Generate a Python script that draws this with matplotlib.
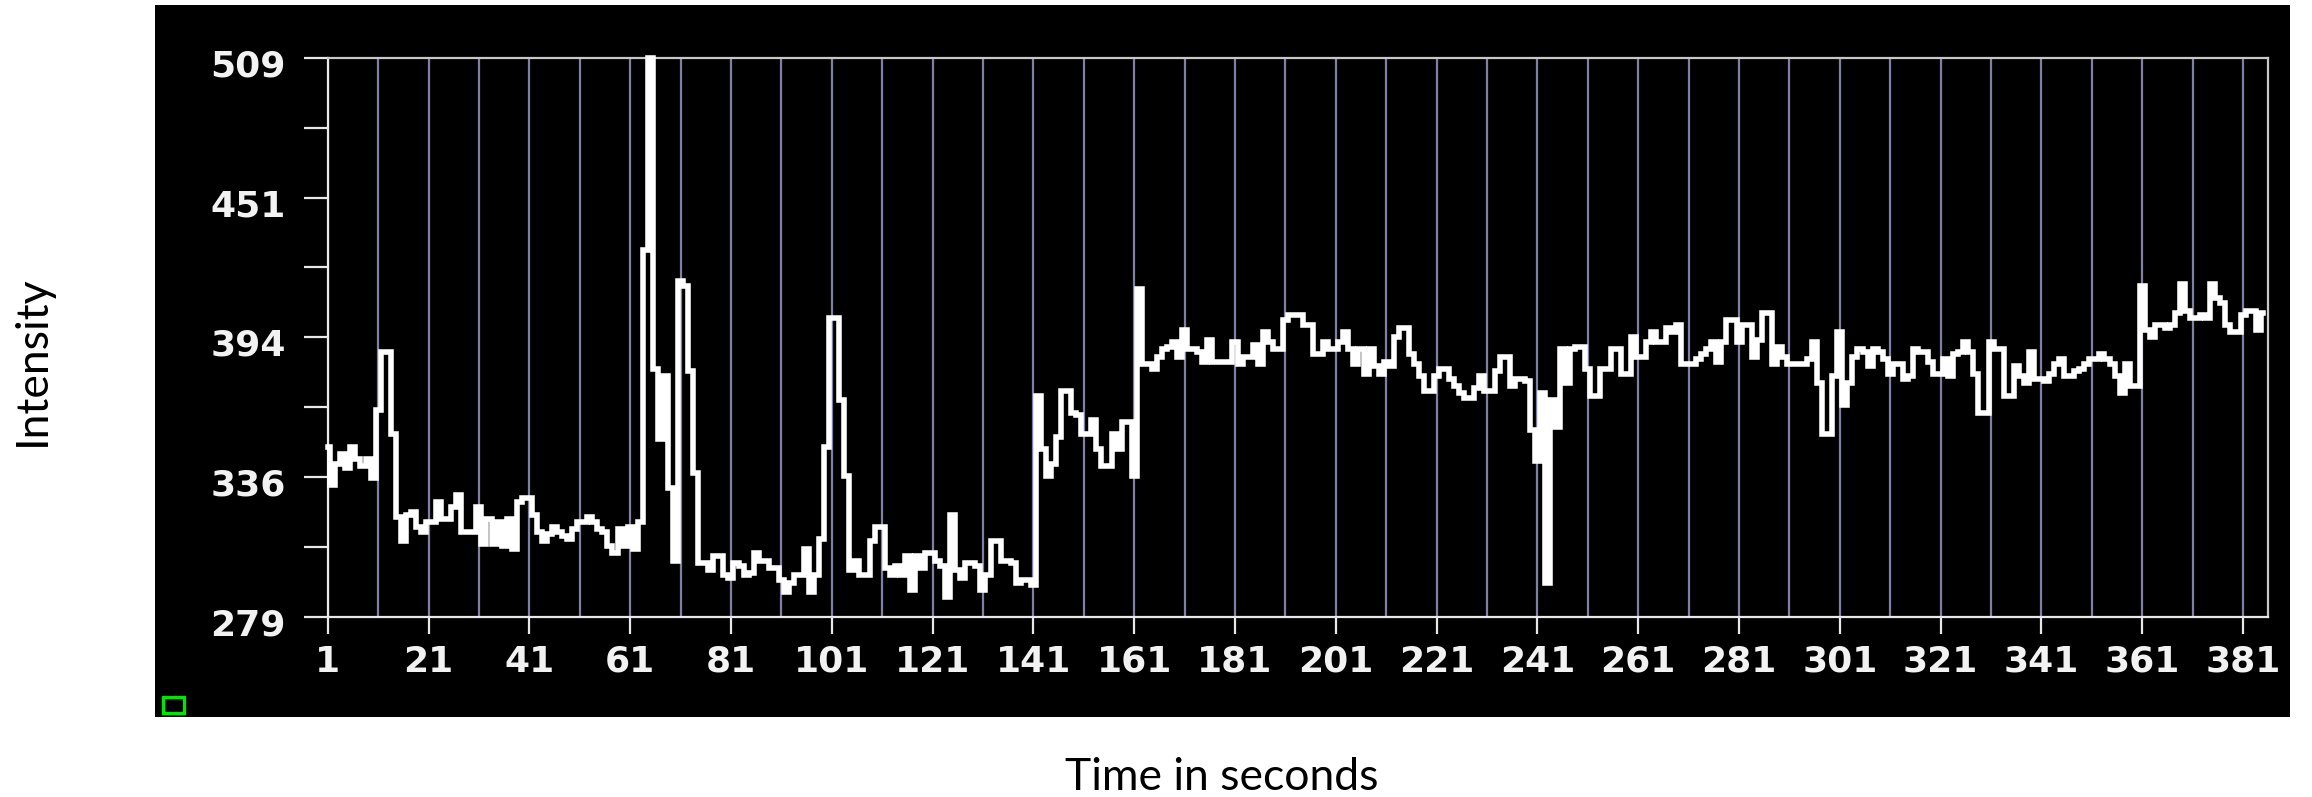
import matplotlib
matplotlib.use("Agg")
import matplotlib.pyplot as plt
import matplotlib.transforms as mtransforms
from matplotlib.patches import Rectangle

# Intensity samples, one per second (t = 1 .. 385)
intensity = [
    349, 333, 342, 346, 340, 349, 344, 341, 344, 336,
    364, 388, 388, 354, 320, 310, 321, 322, 316, 314,
    318, 318, 326, 319, 319, 324, 329, 314, 314, 314,
    324, 309, 319, 309, 318, 308, 319, 307, 326, 328,
    328, 321, 314, 310, 313, 316, 314, 312, 311, 315,
    318, 318, 320, 318, 315, 314, 308, 305, 315, 308,
    316, 307, 318, 430, 509, 381, 352, 378, 332, 302,
    417, 415, 380, 338, 301, 301, 298, 304, 304, 296,
    295, 301, 300, 296, 297, 305, 302, 302, 299, 299,
    294, 289, 293, 296, 296, 307, 289, 296, 311, 349,
    402, 402, 368, 337, 298, 302, 296, 296, 310, 316,
    316, 299, 296, 300, 296, 304, 290, 304, 299, 305,
    305, 302, 300, 287, 321, 298, 295, 301, 301, 300,
    290, 296, 310, 310, 302, 302, 301, 293, 294, 294,
    292, 370, 348, 337, 342, 353, 372, 372, 363, 362,
    354, 354, 360, 348, 341, 341, 354, 348, 359, 359,
    337, 414, 383, 383, 381, 386, 389, 390, 392, 386,
    397, 389, 389, 388, 384, 393, 384, 384, 384, 384,
    392, 383, 386, 386, 391, 383, 396, 392, 389, 389,
    401, 403, 403, 403, 399, 399, 387, 387, 392, 389,
    389, 392, 396, 389, 383, 389, 379, 389, 382, 379,
    384, 382, 394, 398, 398, 387, 383, 378, 372, 372,
    378, 381, 381, 377, 374, 371, 369, 369, 373, 378,
    372, 372, 380, 386, 386, 374, 377, 377, 376, 356,
    343, 371, 293, 368, 357, 389, 375, 389, 390, 390,
    381, 370, 370, 381, 381, 389, 389, 379, 379, 394,
    386, 386, 392, 396, 392, 392, 398, 396, 399, 383,
    383, 383, 385, 387, 389, 392, 384, 392, 401, 401,
    392, 399, 399, 386, 393, 404, 404, 383, 390, 386,
    383, 383, 383, 383, 385, 392, 375, 354, 354, 378,
    396, 366, 375, 386, 389, 388, 382, 389, 388, 385,
    379, 383, 383, 377, 378, 389, 388, 388, 384, 379,
    379, 385, 378, 387, 388, 392, 388, 379, 363, 363,
    392, 389, 389, 370, 370, 382, 378, 375, 388, 377,
    377, 376, 379, 383, 385, 378, 378, 380, 381, 383,
    385, 385, 387, 385, 383, 378, 371, 383, 374, 374,
    415, 397, 394, 399, 399, 398, 399, 404, 416, 405,
    402, 402, 403, 402, 416, 410, 408, 399, 396, 396,
    403, 405, 405, 397, 404,
]
seconds = list(range(1, len(intensity) + 1))

x_tick_values = list(range(1, 382, 20))
x_grid_values = list(range(11, 386, 10))
y_tick_values = [279, 336.5, 394, 451.5, 509]
y_tick_labels = ["279", "336", "394", "451", "509"]
y_minor_values = [307.75, 365.25, 422.75, 480.25]

W, H, DPI = 2312, 797, 100
fig = plt.figure(figsize=(W / DPI, H / DPI), dpi=DPI, facecolor="white")

# black plot panel behind the axes
fig.patches.append(Rectangle((155 / W, 1 - 717 / H), (2290 - 155) / W, (717 - 5) / H,
                             transform=fig.transFigure, facecolor="black",
                             edgecolor="none", zorder=-10))
# small green status box in the panel corner
fig.patches.append(Rectangle((163 / W, 1 - 713 / H), 21 / W, 16 / H,
                             transform=fig.transFigure, facecolor="none",
                             edgecolor="#00e600", linewidth=2.4, zorder=-5))

ax = fig.add_axes([327.7 / W, 1 - 616.5 / H, (2268.3 - 327.7) / W, (616.5 - 58) / H])
ax.set_zorder(1)
ax.set_facecolor("black")
ax.set_xlim(1, 386)
ax.set_ylim(279, 509)

ax.plot(seconds, intensity, color="white", linewidth=4.0, drawstyle="steps-mid",
        solid_joinstyle="miter", clip_on=False, zorder=3)

ax.set_xticks(x_tick_values)
ax.set_xticklabels([str(v) for v in x_tick_values])
ax.set_xticks(x_grid_values, minor=True)
ax.set_yticks(y_tick_values)
ax.set_yticklabels(y_tick_labels)
ax.set_yticks(y_minor_values, minor=True)

ax.set_axisbelow(True)
ax.grid(axis="x", which="both", color="#8080a4", linewidth=1.6)

for side in ("left", "bottom"):
    ax.spines[side].set_color("#e8e8e8")
    ax.spines[side].set_linewidth(1.6)
for side in ("top", "right"):
    ax.spines[side].set_color("#c8c8c8")
    ax.spines[side].set_linewidth(1.6)

tick_font = dict(family="DejaVu Sans", weight="bold", size=26)
ax.tick_params(axis="x", which="major", direction="out", length=12.5, width=1.6,
               color="#e8e8e8", pad=8, labelcolor="#f2f2f2")
ax.tick_params(axis="x", which="minor", length=0)
ax.tick_params(axis="y", which="both", direction="out", length=17, width=1.6,
               color="#e8e8e8", pad=13, labelcolor="#f2f2f2")
shift_down = mtransforms.ScaledTranslation(0, -5 / DPI, fig.dpi_scale_trans)
for lbl in ax.get_xticklabels() + ax.get_yticklabels():
    lbl.set_fontfamily(tick_font["family"])
    lbl.set_fontweight(tick_font["weight"])
    lbl.set_fontsize(tick_font["size"])
for lbl in ax.get_yticklabels():
    lbl.set_transform(lbl.get_transform() + shift_down)

fig.text(1222 / W, 1 - 777 / H, "Time in seconds", ha="center", va="center",
         family="Lato", fontsize=32, color="black")
fig.text(32 / W, 1 - 361 / H, "Intensity", ha="center", va="center",
         rotation=90, family="Lato", fontsize=32, color="black")

fig.savefig("out.png", dpi=DPI, facecolor="white")
